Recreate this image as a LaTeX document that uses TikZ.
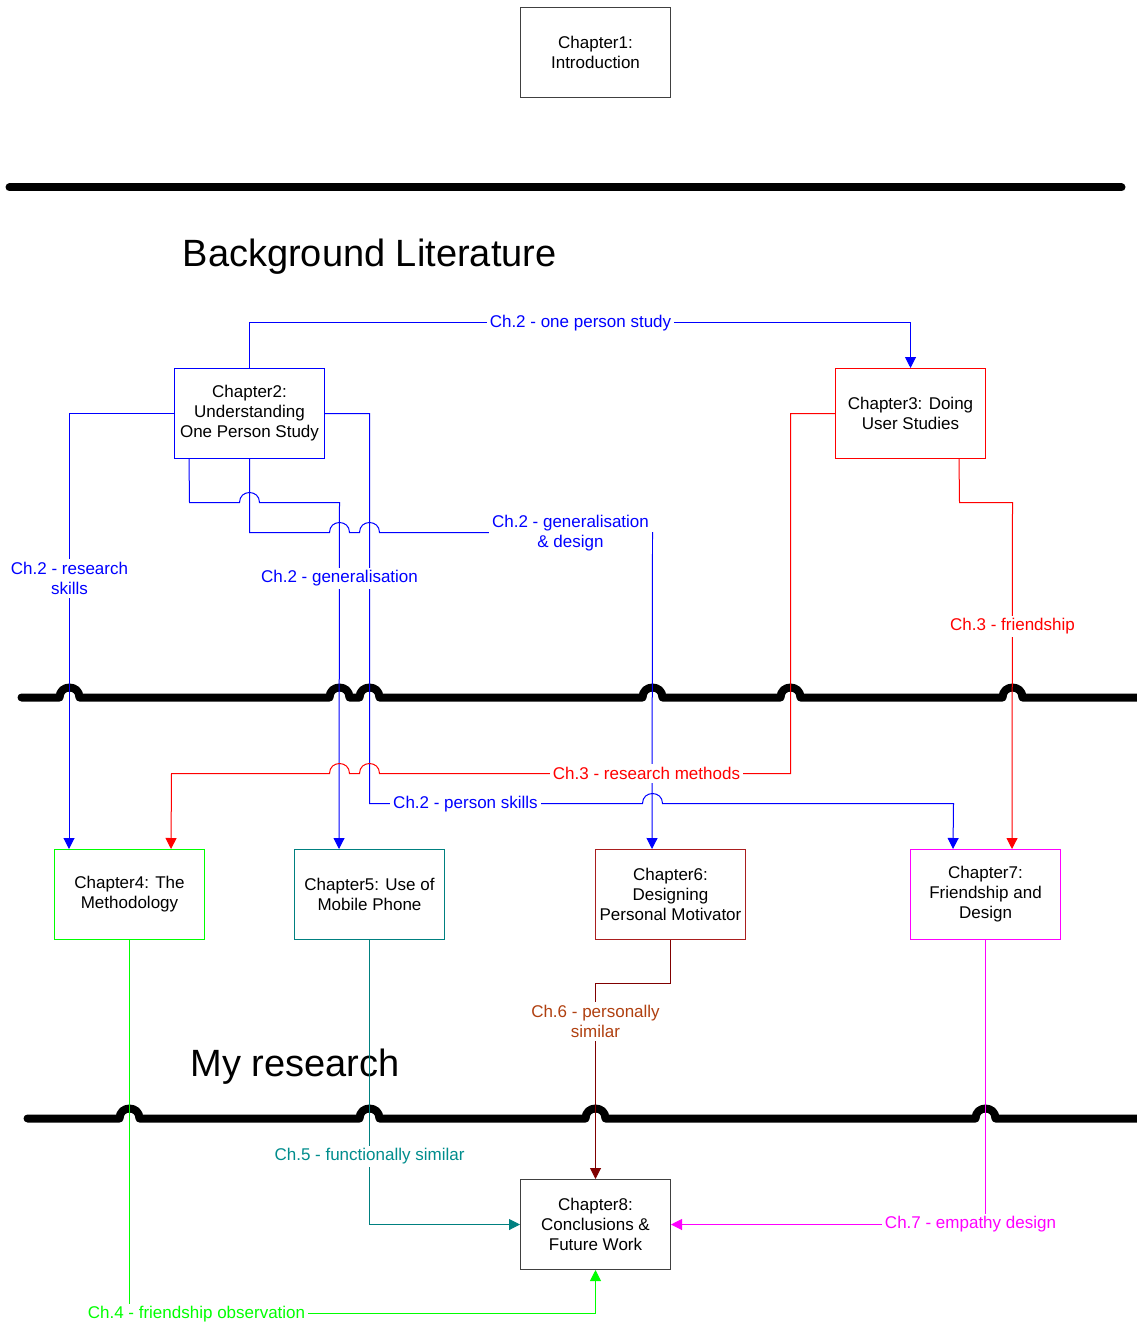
\documentclass[tikz,border=0pt]{standalone}
\usepackage{fontspec}
\setmainfont{Liberation Sans}
\usetikzlibrary{arrows.meta,calc}

\definecolor{cblue}{RGB}{0,0,255}
\definecolor{cred}{RGB}{255,0,0}
\definecolor{cgreen}{RGB}{0,255,0}
\definecolor{cteal}{RGB}{0,128,128}
\definecolor{cmag}{RGB}{255,0,255}
\definecolor{cdred}{RGB}{128,0,0}
\definecolor{cbox6}{RGB}{170,30,30}
\definecolor{cbrown}{RGB}{176,64,16}
\definecolor{cgray}{RGB}{64,64,64}

\tikzset{
  chapter/.style={draw=#1, line width=1bp, fill=white, minimum width=150bp,
    minimum height=90bp, align=center, inner sep=2bp,
    font=\fontsize{17bp}{20bp}\selectfont, text=black},
  link/.style={draw=#1, line width=1bp},
  arr/.style={-{Triangle[width=11bp,length=11bp]}},
  tag/.style={fill=white, inner sep=3bp, align=center, text=#1,
    font=\fontsize{17bp}{20bp}\selectfont},
  heading/.style={anchor=west, inner sep=0pt, font=\fontsize{38bp}{44bp}\selectfont},
  rule/.style={line width=8bp, line cap=round, line join=round},
  % a half-circle hop over a crossing line, left to right / right to left
  hopR/.style 2 args={insert path={-- ({#1-10},#2) .. controls ({#1-10},{#2-13.3}) and ({#1+10},{#2-13.3}) .. ({#1+10},#2)}},
  hopL/.style 2 args={insert path={-- ({#1+10},#2) .. controls ({#1+10},{#2-13.3}) and ({#1-10},{#2-13.3}) .. ({#1-10},#2)}},
}

\begin{document}
\begin{tikzpicture}[x=1bp,y=-1bp]
\useasboundingbox[fill=white] (-0.5,-0.5) rectangle (1135.5,1323.5);

% section rules
\draw[rule] (9,187) -- (1121,187);
\draw[rule] (21,697) [hopR={69}{697}] [hopR={339}{697}] [hopR={369}{697}]
  [hopR={652}{697}] [hopR={790}{697}] [hopR={1012}{697}] -- (1145,697);
\draw[rule] (27,1118) [hopR={129}{1118}] [hopR={369}{1118}] [hopR={595}{1118}]
  [hopR={985}{1118}] -- (1145,1118);

% headings
\node[heading] (bg) at (182,256) {Background Literature};
\node[heading] (my) at (190,1066) {My research};

% chapters
\node[chapter=cgray] (ch1) at (595,52) {Chapter1:\\Introduction};
\node[chapter=cblue] (ch2) at (249,413) {Chapter2:\\Understanding\\One Person Study};
\node[chapter=cred] (ch3) at (910,413) {Chapter3: Doing\\User Studies};
\node[chapter=cgreen] (ch4) at (129,894) {Chapter4: The\\Methodology};
\node[chapter=cteal] (ch5) at (369,894) {Chapter5: Use of\\Mobile Phone};
\node[chapter=cbox6] (ch6) at (670,894) {Chapter6:\\Designing\\Personal Motivator};
\node[chapter=cmag] (ch7) at (985,894) {Chapter7:\\Friendship and\\Design};
\node[chapter=cgray] (ch8) at (595,1224) {Chapter8:\\Conclusions \&\\Future Work};

% links from chapter 2
\draw[link=cblue, arr] (ch2.north) -- (249,322) -| (ch3.north);
\draw[link=cblue, arr] (ch2.west) -| ($(ch4.north west)+(15,0)$);
\draw[link=cblue, arr] (ch2.east) -- (369,413) -- (369,803) [hopR={652}{803}]
  -- (953,803) -- ($(ch7.north west)+(43,0)$);
\draw[link=cblue, arr] ($(ch2.south west)+(15,0)$) -- (189,502) [hopR={249}{502}]
  -- (339,502) -- ($(ch5.north west)+(45,0)$);
\draw[link=cblue, arr] (ch2.south) -- (249,532) [hopR={339}{532}] [hopR={369}{532}]
  -- (652,532) -- ($(ch6.north west)+(57,0)$);

% links from chapter 3
\draw[link=cred, arr] (ch3.west) -- (790,413) -- (790,773) [hopL={369}{773}]
  [hopL={339}{773}] -- (171,773) -- ($(ch4.north west)+(117,0)$);
\draw[link=cred, arr] ($(ch3.south west)+(124,0)$) -- (959,502) -- (1012,502)
  -- ($(ch7.north west)+(102,0)$);

% links into chapter 8
\draw[link=cdred, arr] (ch6.south) -- (670,983) -| (ch8.north);
\draw[link=cteal, arr] (ch5.south) |- (ch8.west);
\draw[link=cmag, arr] (ch7.south) |- (ch8.east);
\draw[link=cgreen, arr] (ch4.south) -- (129,1313) -| (ch8.south);

% link labels
\node[tag=cblue] (l1) at (580,323) {Ch.2 - one person study};
\node[tag=cblue] (l2) at (69,578) {Ch.2 - research\\skills};
\node[tag=cblue] (l3) at (339,578) {Ch.2 - generalisation};
\node[tag=cblue] (l4) at (570,533) {Ch.2 - generalisation\\\& design};
\node[tag=cred] (l5) at (1012,626) {Ch.3 - friendship};
\node[tag=cred] (l6) at (646,773) {Ch.3 - research methods};
\node[tag=cblue] (l7) at (465,804) {Ch.2 - person skills};
\node[tag=cbrown] (l8) at (595,1021) {Ch.6 - personally\\similar};
\node[tag=cteal!90!cyan] (l9) at (369,1156) {Ch.5 - functionally similar};
\node[tag=cmag] (l10) at (970,1224) {Ch.7 - empathy design};
\node[tag=cgreen] (l11) at (196,1314) {Ch.4 - friendship observation};
\end{tikzpicture}
\end{document}
